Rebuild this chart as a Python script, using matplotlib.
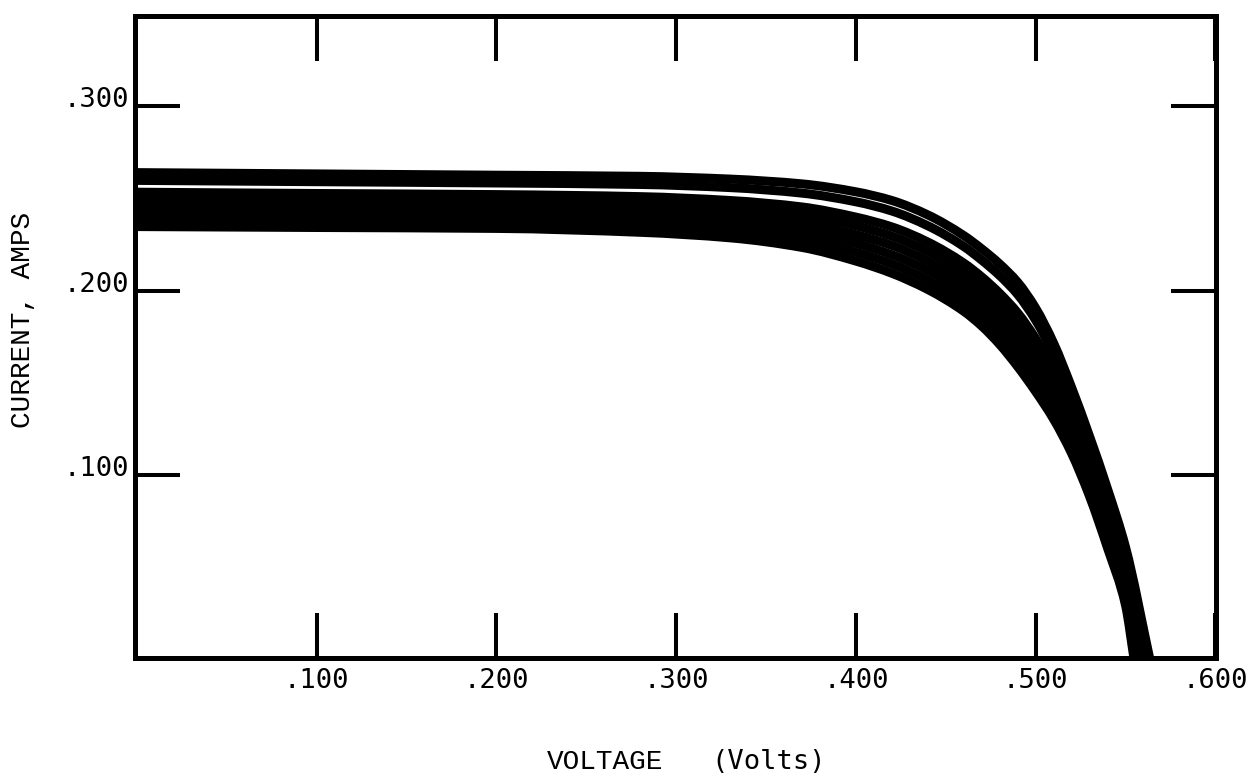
import numpy as np
import matplotlib
matplotlib.use("Agg")
import matplotlib.pyplot as plt
from matplotlib.path import Path
from matplotlib.patches import PathPatch
from matplotlib.transforms import ScaledTranslation

# Common voltage grid (V) for the measured I-V curves
voltage = [0.0, 0.10, 0.20, 0.28, 0.33, 0.37, 0.40, 0.42, 0.44, 0.46,
           0.47, 0.48, 0.49, 0.50, 0.51, 0.52, 0.53, 0.54, 0.55]

# Current (A) of each cell at the grid voltages
cell_1 = [0.2639, 0.2632, 0.2625, 0.2619, 0.2604, 0.2578, 0.2535, 0.2488, 0.2410, 0.2298,
          0.2226, 0.2144, 0.2045, 0.1905, 0.1715, 0.1475, 0.1210, 0.0925, 0.0610]
cell_2 = [0.2597, 0.2590, 0.2583, 0.2575, 0.2558, 0.2528, 0.2481, 0.2431, 0.2351, 0.2239,
          0.2165, 0.2081, 0.1979, 0.1839, 0.1655, 0.1423, 0.1163, 0.0879, 0.0564]
cell_3 = [0.2533, 0.2526, 0.2520, 0.2509, 0.2488, 0.2453, 0.2398, 0.2345, 0.2263, 0.2149,
          0.2074, 0.1985, 0.1879, 0.1740, 0.1565, 0.1345, 0.1092, 0.0809, 0.0495]
cell_4 = [0.2496, 0.2490, 0.2484, 0.2470, 0.2448, 0.2409, 0.2351, 0.2295, 0.2212, 0.2097,
          0.2021, 0.1930, 0.1821, 0.1683, 0.1513, 0.1300, 0.1050, 0.0768, 0.0455]
cell_5 = [0.2459, 0.2453, 0.2447, 0.2432, 0.2407, 0.2365, 0.2303, 0.2245, 0.2160, 0.2045,
          0.1968, 0.1875, 0.1763, 0.1626, 0.1460, 0.1254, 0.1009, 0.0727, 0.0415]
cell_6 = [0.2421, 0.2416, 0.2410, 0.2393, 0.2367, 0.2322, 0.2256, 0.2194, 0.2109, 0.1993,
          0.1915, 0.1819, 0.1705, 0.1568, 0.1408, 0.1209, 0.0968, 0.0687, 0.0375]
cell_7 = [0.2384, 0.2379, 0.2374, 0.2354, 0.2326, 0.2278, 0.2208, 0.2144, 0.2057, 0.1940,
          0.1861, 0.1763, 0.1646, 0.1510, 0.1355, 0.1163, 0.0926, 0.0646, 0.0335]
cell_8 = [0.2347, 0.2342, 0.2337, 0.2316, 0.2286, 0.2234, 0.2160, 0.2094, 0.2006, 0.1888,
          0.1808, 0.1708, 0.1588, 0.1453, 0.1303, 0.1118, 0.0885, 0.0605, 0.0295]

cells = [cell_1, cell_2, cell_3, cell_4, cell_5, cell_6, cell_7, cell_8]

# Open-circuit voltage (V) of each cell, where the current reaches zero
open_circuit_voltage = [0.5636, 0.5623, 0.5604, 0.5593, 0.5582, 0.5570, 0.5559, 0.5548]

x_ticks = [0.1, 0.2, 0.3, 0.4, 0.5, 0.6]
x_tick_labels = [".100", ".200", ".300", ".400", ".500", ".600"]
y_ticks = [0.1, 0.2, 0.3]
y_tick_labels = [".100", ".200", ".300"]

MONO_SANS = "DejaVu Sans Mono"
MONO_SERIF = "Liberation Mono"


def smooth_curve_path(x, y):
    """Bezier path through the points, with monotone (Fritsch-Carlson) tangents."""
    x = np.asarray(x, float)
    y = np.asarray(y, float)
    h = np.diff(x)
    delta = np.diff(y) / h
    m = np.empty_like(y)
    m[0], m[-1] = delta[0], delta[-1]
    for k in range(1, len(x) - 1):
        if delta[k - 1] * delta[k] <= 0:
            m[k] = 0.0
        else:
            w1 = 2 * h[k] + h[k - 1]
            w2 = h[k] + 2 * h[k - 1]
            m[k] = (w1 + w2) / (w1 / delta[k - 1] + w2 / delta[k])
    verts = [(x[0], y[0])]
    codes = [Path.MOVETO]
    for k in range(len(x) - 1):
        d = h[k] / 3.0
        verts += [(x[k] + d, y[k] + m[k] * d),
                  (x[k + 1] - d, y[k + 1] - m[k + 1] * d),
                  (x[k + 1], y[k + 1])]
        codes += [Path.CURVE4] * 3
    return Path(verts, codes)


fig = plt.figure(figsize=(12.5, 7.74), dpi=100, facecolor="white")
ax = fig.add_axes([0.108, 0.1499, 0.8648, 0.8294])

for current, voc in zip(cells, open_circuit_voltage):
    v = np.append(voltage, voc)
    i = np.append(current, 0.0)
    patch = PathPatch(smooth_curve_path(v, i), facecolor="none",
                      edgecolor="black", lw=6.5, capstyle="butt",
                      joinstyle="round", zorder=2)
    ax.add_patch(patch)

ax.set_xlim(-0.0011, 0.6003)
ax.set_ylim(0.0011, 0.3487)

for side in ax.spines.values():
    side.set_linewidth(3.6)
    side.set_color("black")

ax.tick_params(axis="both", which="major", direction="in", length=32.5,
               width=2.9, color="black", top=True, right=True)
ax.tick_params(axis="x", pad=7)
ax.tick_params(axis="y", pad=4)

ax.set_xticks(x_ticks)
ax.set_xticklabels(x_tick_labels, fontfamily=MONO_SANS, fontsize=19.5)
ax.set_yticks(y_ticks)
ax.set_yticklabels(y_tick_labels, fontfamily=MONO_SANS, fontsize=19.5)

# raise the y labels slightly above their ticks, typewriter style
lift = ScaledTranslation(0, 0.09, fig.dpi_scale_trans)
for lab in ax.get_yticklabels():
    lab.set_transform(lab.get_transform() + lift)

fig.text(23 / 1250, 1 - 320 / 774, "CURRENT, AMPS", rotation=90,
         ha="center", va="center", fontfamily=MONO_SERIF, fontsize=20)
fig.text(605 / 1250, 1 - 762 / 774, "VOLTAGE", ha="center", va="center",
         fontfamily=MONO_SERIF, fontsize=20)
fig.text(769 / 1250, 1 - 762 / 774, "(Volts)", ha="center", va="center",
         fontfamily=MONO_SANS, fontsize=19.5)

fig.savefig("out.png", dpi=100, facecolor="white")
